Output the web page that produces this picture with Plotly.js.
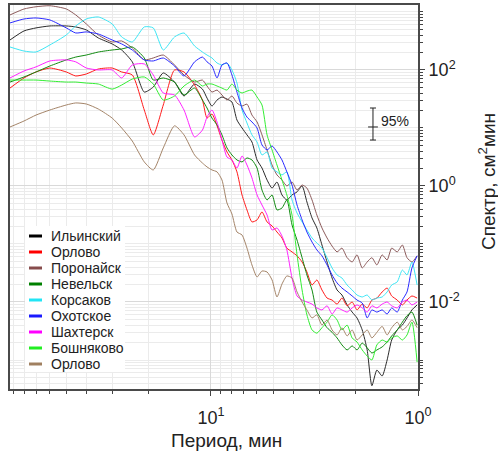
<!DOCTYPE html>
<html><head><meta charset="utf-8">
<script src="https://cdn.plot.ly/plotly-3.0.1.min.js"></script>
<style>html,body{margin:0;padding:0;background:#fff}#chart{width:498px;height:457px}</style>
</head><body><div id="chart"></div>
<script>
// Period, min
const period = [93.5, 80, 70, 60, 50, 45, 40, 35, 30, 27, 24, 21, 19, 17, 15, 13.5, 12, 11, 10.45, 9.89, 9.35, 8.85, 8.37, 7.92, 7.49, 7.08, 6.70, 6.34, 5.99, 5.67, 5.36, 5.07, 4.80, 4.54, 4.30, 4.06, 3.84, 3.63, 3.44, 3.25, 3.08, 2.91, 2.75, 2.60, 2.46, 2.33, 2.20, 2.08, 1.97, 1.86, 1.76, 1.67, 1.58, 1.49, 1.41, 1.34, 1.26, 1.19, 1.13, 1.07, 1.01];

const ilinsky = [329, 471, 531, 574, 574, 552, 490, 356, 281, 221, 138, 41.6, 50.8, 88.8, 61.9, 35.6, 57.2, 46.8, 32.8, 23.9, 30.3, 34.2, 31.5, 28.0, 13.7, 10.0, 7.6, 5.73, 2.81, 2.04, 1.27, 0.92, 1.17, 0.70, 0.574, 0.70, 0.79, 1.0, 0.530, 0.281, 0.189, 0.096, 0.049, 0.0259, 0.0161, 0.0132, 0.0089, 0.0067, 0.0053, 0.0033, 0.00149, 0.00036, 0.00067, 0.00053, 0.0010, 0.00221, 0.0033, 0.0040, 0.0053, 0.0073, 0.0089];
const orlovo = [48.8, 72.8, 92.4, 108, 92.4, 78.8, 85.3, 104, 108, 92.4, 82, 20.4, 7.6, 24.9, 100, 92.4, 55, 30.3, 14.8, 17.4, 10.9, 6.2, 3.86, 2.81, 1.75, 0.70, 0.386, 0.240, 0.26, 0.357, 0.240, 0.205, 0.161, 0.127, 0.085, 0.073, 0.0625, 0.049, 0.0329, 0.0196, 0.0240, 0.0161, 0.0117, 0.0108, 0.0092, 0.0117, 0.0086, 0.0100, 0.0073, 0.0092, 0.0079, 0.0108, 0.0117, 0.0149, 0.0174, 0.0127, 0.0108, 0.0089, 0.0108, 0.0127, 0.0117];
const poronaysk = [888, 1125, 1230, 1280, 1127, 888, 621, 401, 304, 316, 240, 149, 161, 181, 122, 82, 62, 67, 52.9, 41.6, 45, 37, 30.3, 35.6, 26.9, 23.9, 25.8, 16.7, 12.7, 7.6, 4.18, 2.30, 1.55, 1.27, 1.0, 1.17, 0.85, 1.04, 0.92, 0.574, 0.316, 0.189, 0.127, 0.092, 0.073, 0.085, 0.058, 0.049, 0.065, 0.0386, 0.049, 0.058, 0.0435, 0.065, 0.053, 0.085, 0.073, 0.096, 0.058, 0.049, 0.0625];
const nevelsk = [61.9, 75.8, 92.4, 117, 149, 167, 181, 204, 221, 230, 249, 161, 67, 72.8, 61.9, 37, 48.8, 30.3, 22.1, 14.8, 11.3, 7.6, 4.53, 3.42, 2.81, 2.60, 3.04, 2.81, 2.04, 0.85, 0.574, 0.70, 0.386, 0.417, 0.574, 0.213, 0.117, 0.058, 0.0292, 0.0161, 0.0067, 0.0049, 0.0036, 0.0030, 0.0024, 0.00182, 0.00149, 0.00175, 0.00149, 0.00196, 0.00162, 0.00132, 0.00149, 0.00168, 0.00204, 0.0026, 0.0033, 0.0045, 0.0058, 0.0067, 0.0040];
const korsakov = [249, 212, 204, 270, 401, 574, 757, 820, 621, 371, 304, 552, 531, 221, 371, 434, 259, 204, 181, 161, 132, 122, 132, 100, 59.6, 20.4, 12.2, 7.6, 5.73, 3.42, 3.86, 2.04, 1.75, 1.55, 1.75, 0.574, 0.342, 0.240, 0.174, 0.127, 0.104, 0.085, 0.058, 0.0386, 0.0292, 0.0259, 0.0196, 0.0161, 0.0132, 0.0122, 0.0132, 0.0108, 0.0117, 0.0122, 0.0149, 0.0196, 0.0222, 0.0356, 0.0292, 0.049, 0.0196];
const okhotskoe = [647, 757, 788, 728, 531, 434, 453, 417, 329, 281, 221, 149, 143, 161, 117, 78.8, 138, 167, 138, 117, 72.8, 122, 132, 82, 41.6, 22.1, 15.4, 12.7, 10.0, 5.1, 4.18, 4.9, 3.86, 2.81, 1.75, 1.04, 0.470, 0.260, 0.161, 0.108, 0.079, 0.0625, 0.0435, 0.0292, 0.0213, 0.0174, 0.0149, 0.0127, 0.0108, 0.0096, 0.0053, 0.0073, 0.0067, 0.0073, 0.0062, 0.0079, 0.0067, 0.0108, 0.0149, 0.0386, 0.0625];
const shakhtersk = [72.8, 96.1, 113, 143, 149, 138, 108, 100, 100, 72.8, 122, 127, 82, 40.1, 37, 20.4, 7.0, 9.2, 15.4, 20.4, 12.7, 6.2, 3.16, 2.81, 2.04, 3.29, 2.30, 1.38, 0.70, 0.470, 0.316, 0.174, 0.189, 0.137, 0.079, 0.0259, 0.0127, 0.0108, 0.0100, 0.0092, 0.0079, 0.0073, 0.0086, 0.0062, 0.0079, 0.0073, 0.0067, 0.0079, 0.0089, 0.0079, 0.0067, 0.0086, 0.0079, 0.0092, 0.0100, 0.0086, 0.0079, 0.0100, 0.0108, 0.0089, 0.0100];
const boshnyakovo = [67, 67, 67, 64.4, 61.9, 61.9, 59.5, 57.2, 46.8, 55, 69.7, 75.8, 57.2, 30.3, 35.6, 52.9, 67, 52.9, 57.2, 57.2, 52.9, 48.7, 45, 57.2, 45, 40.1, 43.2, 45, 34.2, 24.9, 7.6, 4.18, 2.30, 1.27, 0.70, 0.316, 0.065, 0.0161, 0.0060, 0.0033, 0.0029, 0.0036, 0.0045, 0.0060, 0.0049, 0.0033, 0.0040, 0.0024, 0.00204, 0.00149, 0.00117, 0.00100, 0.00182, 0.00221, 0.00204, 0.0024, 0.0026, 0.00221, 0.0027, 0.0045, 0.00092];
const orlovo2 = [10.4, 13.2, 16.7, 20.4, 24.9, 27.0, 25.9, 21.2, 14.8, 10.0, 5.96, 2.60, 1.89, 4.53, 10.9, 7.6, 3.42, 2.49, 2.13, 1.89, 1.75, 1.27, 0.509, 0.329, 0.161, 0.143, 0.085, 0.0435, 0.0270, 0.0342, 0.0329, 0.0240, 0.0122, 0.0204, 0.0281, 0.0259, 0.0149, 0.0100, 0.0073, 0.0053, 0.0060, 0.0040, 0.0049, 0.0033, 0.0027, 0.0036, 0.0026, 0.0033, 0.00221, 0.0027, 0.0033, 0.0024, 0.0030, 0.0038, 0.0027, 0.0036, 0.0045, 0.0033, 0.0038, 0.0049, 0.0036];

const stationNames = ['Ильинский', 'Орлово', 'Поронайск', 'Невельск', 'Корсаков', 'Охотское', 'Шахтерск', 'Бошняково', 'Орлово'];
const stationColors = ['#000000', '#ff0000', '#874c4c', '#008000', '#22e5f5', '#1a1aff', '#ff00ff', '#22ee22', '#a08060'];
const lineColors = ['#2a2a2a', '#ff1a1a', '#8c5a5a', '#118a11', '#3ee6f5', '#2a2aff', '#ff22ff', '#33ee33', '#a48468'];
const seriesList = [ilinsky, orlovo, poronaysk, nevelsk, korsakov, okhotskoe, shakhtersk, boshnyakovo, orlovo2];

// 95% confidence bar
const ciPeriod = [1.65];
const ciValue = [10.4];
const ciPlus = [11.7];
const ciMinus = [4.2];
const ciLabel = '95%';

const xTickVals = [10, 1];
const xTickText = ['10<sup>1</sup>', '10<sup>0</sup>'];
const yTickVals = [0.01, 1, 100];
const yTickText = ['10<sup>-2</sup>', '10<sup>0</sup>', '10<sup>2</sup>'];
const xTitle = 'Период, мин';
const yTitle = 'Спектр, см<sup>2</sup>мин';

const minorX = [];
[1, 10].forEach(d => { for (let m = 2; m <= 9; m++) minorX.push(m * d); });
const minorY = [];
for (let e = -4; e <= 3; e++) {
  for (let m = 1; m <= 9; m++) {
    const v = m * Math.pow(10, e);
    if (m === 1 && (e === -2 || e === 0 || e === 2)) continue;
    minorY.push(v);
  }
}

const traces = seriesList.map((ys, i) => ({
  x: period, y: ys, type: 'scatter', mode: 'lines', name: stationNames[i],
  line: {color: lineColors[i], width: 1, shape: 'spline', smoothing: 0.6},
  showlegend: false, hoverinfo: 'skip'
}));
traces.push({
  x: ciPeriod, y: ciValue, type: 'scatter', mode: 'markers', showlegend: false, hoverinfo: 'skip',
  marker: {symbol: 'line-ew', size: 7, line: {width: 1, color: '#222'}, color: '#222'},
  error_y: {type: 'data', symmetric: false, array: ciPlus, arrayminus: ciMinus, color: '#222', thickness: 1, width: 3}
});

// Plot area in pixels: x 10..418, y 5..389
const px = v => (v - 10) / 408;
const py = v => (389 - v) / 384;

const shapes = [{type: 'rect', xref: 'paper', yref: 'paper', x0: px(25), x1: px(125), y0: py(372), y1: py(226), fillcolor: '#ffffff', line: {width: 0}, layer: 'above'}];
const annotations = [];
stationNames.forEach((n, i) => {
  const yy = 236 + 16 * i;
  shapes.push({type: 'line', xref: 'paper', yref: 'paper', x0: px(29), x1: px(42), y0: py(yy), y1: py(yy), line: {color: stationColors[i], width: 3}, layer: 'above'});
  annotations.push({xref: 'paper', yref: 'paper', x: px(49), y: py(yy), xanchor: 'left', yanchor: 'middle', text: n, showarrow: false, font: {size: 14, color: '#222'}});
});
annotations.push({xref: 'paper', yref: 'paper', x: px(379), y: py(121), xanchor: 'left', yanchor: 'middle', text: ciLabel, showarrow: false, font: {size: 14, color: '#222'}});
annotations.push({xref: 'paper', yref: 'paper', x: px(226), y: py(440), xanchor: 'center', yanchor: 'middle', text: xTitle, showarrow: false, font: {size: 19, color: '#222'}});
annotations.push({xref: 'paper', yref: 'paper', x: px(487), y: py(182), xanchor: 'center', yanchor: 'middle', text: yTitle, textangle: -90, showarrow: false, font: {size: 19, color: '#222'}});

const layout = {
  width: 498, height: 457,
  margin: {l: 10, r: 80, t: 5, b: 68},
  paper_bgcolor: '#ffffff', plot_bgcolor: '#ffffff',
  font: {family: 'Liberation Sans, Arial, sans-serif', color: '#222'},
  showlegend: false,
  xaxis: {
    type: 'log', range: [Math.log10(93.5), 0],
    tickmode: 'array', tickvals: xTickVals, ticktext: xTickText,
    tickfont: {size: 18, color: '#222'}, ticklabelstandoff: 6,
    ticks: 'outside', ticklen: 5, tickcolor: '#444',
    showline: true, linecolor: '#4a4a4a', linewidth: 2, mirror: true,
    showgrid: true, gridcolor: '#d9d9d9', gridwidth: 1, zeroline: false,
    minor: {tickmode: 'array', tickvals: minorX, ticks: 'outside', ticklen: 3, tickcolor: '#444', showgrid: true, gridcolor: '#ebebeb', gridwidth: 1}
  },
  yaxis: {
    type: 'log', side: 'right', range: [-3.5, 3.12],
    tickmode: 'array', tickvals: yTickVals, ticktext: yTickText,
    tickfont: {size: 18, color: '#222'},
    ticks: 'outside', ticklen: 5, tickcolor: '#444',
    showline: true, linecolor: '#4a4a4a', linewidth: 2, mirror: true,
    showgrid: true, gridcolor: '#d9d9d9', gridwidth: 1, zeroline: false,
    minor: {tickmode: 'array', tickvals: minorY, ticks: 'outside', ticklen: 3, tickcolor: '#444', showgrid: true, gridcolor: '#ebebeb', gridwidth: 1}
  },
  shapes: shapes,
  annotations: annotations
};

Plotly.newPlot('chart', traces, layout, {displayModeBar: false});
</script>
</body></html>
